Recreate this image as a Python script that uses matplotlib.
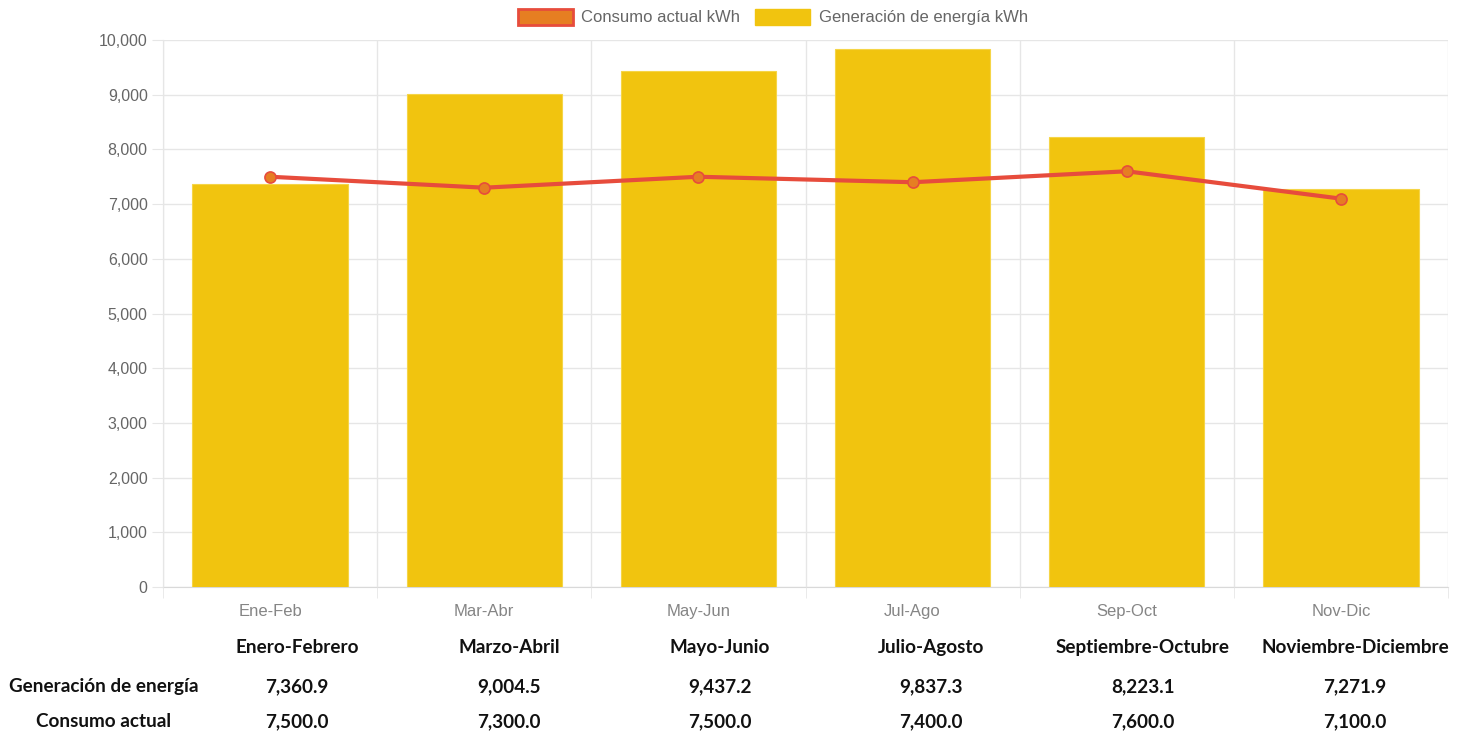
import numpy as np
import matplotlib.pyplot as plt
from matplotlib.patches import Patch

# Data
periodos = ['Ene-Feb', 'Mar-Abr', 'May-Jun', 'Jul-Ago', 'Sep-Oct', 'Nov-Dic']
periodos_largos = ['Enero-Febrero', 'Marzo-Abril', 'Mayo-Junio',
                   'Julio-Agosto', 'Septiembre-Octubre', 'Noviembre-Diciembre']
generacion = [7360.9, 9004.5, 9437.2, 9837.3, 8223.1, 7271.9]
consumo = [7500.0, 7300.0, 7500.0, 7400.0, 7600.0, 7100.0]
filas = ['Generación de energía', 'Consumo actual']

# Colours
amarillo = '#f1c40f'
rojo = '#e74c3c'
naranja = '#e67e22'
gris = '#666666'
rejilla = '#e6e6e6'

W, H = 1466, 738
fig = plt.figure(figsize=(W / 100, H / 100), dpi=100)
ax = fig.add_axes([163 / W, 1 - 587 / H, (1448 - 163) / W, (587 - 40) / H])

x = np.arange(len(periodos))
ax.bar(x, generacion, width=0.725, color=amarillo, edgecolor='#f5d547',
       linewidth=0.8, zorder=2)
ax.plot(x, consumo, color=rojo, linewidth=3, zorder=3,
        marker='o', markersize=8, markerfacecolor=naranja,
        markeredgecolor=rojo, markeredgewidth=1.2)

ax.set_xlim(-0.5, len(periodos) - 0.5)
ax.set_ylim(0, 10000)
ax.set_yticks(np.arange(0, 10001, 1000))
ax.set_yticklabels([f'{v:,}' for v in range(0, 10001, 1000)])
ax.set_xticks(x)
ax.set_xticklabels(periodos)

# vertical grid lines between categories
ax.set_xticks(np.arange(-0.5, len(periodos)), minor=True)
ax.grid(False)
ax.grid(axis='y', color=rejilla, linewidth=1, zorder=0)
ax.grid(axis='x', which='minor', color=rejilla, linewidth=1, zorder=0)

for s in ['top', 'right']:
    ax.spines[s].set_visible(False)
for s in ['left', 'bottom']:
    ax.spines[s].set_color('#d9d9d9')
    ax.spines[s].set_zorder(1)

ax.tick_params(axis='y', length=8, color=rejilla, pad=3,
               labelsize=11.5, labelcolor=gris)
ax.tick_params(axis='x', which='major', length=0, pad=12,
               labelsize=12, labelcolor='#858585')
ax.tick_params(axis='x', which='minor', length=8, color=rejilla)
for lbl in ax.get_yticklabels() + ax.get_xticklabels():
    lbl.set_family('Liberation Sans')

# Legend
handles = [Patch(facecolor=naranja, edgecolor=rojo, linewidth=2,
                 label='Consumo actual kWh'),
           Patch(facecolor=amarillo, edgecolor=amarillo,
                 label='Generación de energía kWh')]
fig.legend(handles=handles, loc='center', bbox_to_anchor=(773 / W, 1 - 17 / H),
           ncol=2, frameon=False, handlelength=3.3, handleheight=1.1,
           handletextpad=0.5, columnspacing=0.9,
           prop={'family': 'Liberation Sans', 'size': 12}, labelcolor=gris)

# Data table below chart (baseline-aligned rows)
col_x = [297, 509, 720, 931, 1143, 1355]
fuente = {'family': 'Lato', 'weight': 'bold', 'size': 13.6, 'color': '#111111'}
for cx, nombre, g, c in zip(col_x, periodos_largos, generacion, consumo):
    fig.text(cx / W, 1 - 653 / H, nombre, ha='center', va='baseline', **fuente)
    fig.text(cx / W, 1 - 692 / H, f'{g:,.1f}', ha='center', va='baseline', **fuente)
    fig.text(cx / W, 1 - 727 / H, f'{c:,.1f}', ha='center', va='baseline', **fuente)
fig.text(104 / W, 1 - 692 / H, filas[0], ha='center', va='baseline', **fuente)
fig.text(104 / W, 1 - 727 / H, filas[1], ha='center', va='baseline', **fuente)

fig.savefig('out.png', dpi=100)
